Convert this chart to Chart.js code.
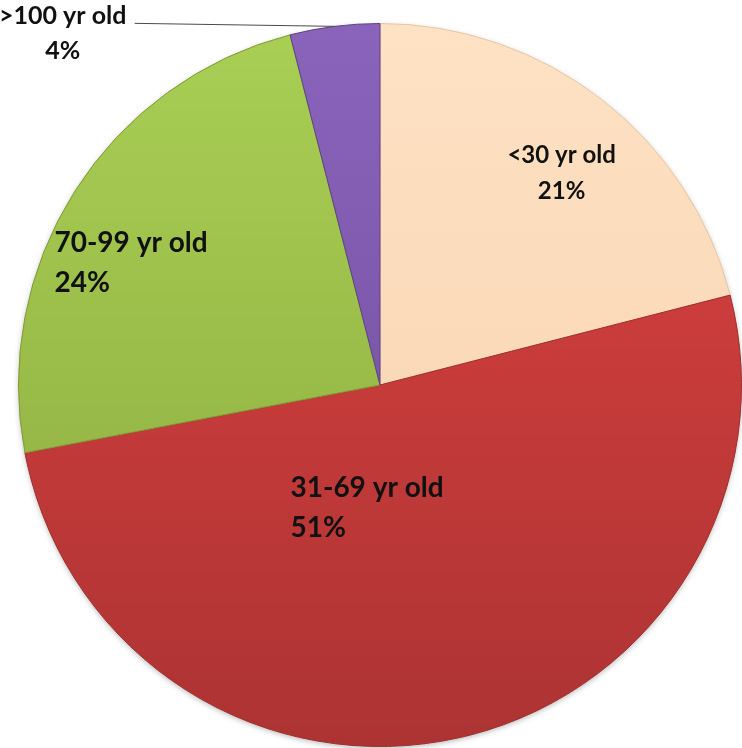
<!DOCTYPE html>
<html>
<head>
<meta charset="utf-8">
<script src="https://cdn.jsdelivr.net/npm/chart.js@4.4.1/dist/chart.umd.min.js"></script>
<style>
  html, body { margin: 0; padding: 0; background: #ffffff; }
  #wrap { width: 742px; height: 748px; position: relative; }
</style>
</head>
<body>
<div id="wrap"><canvas id="pie"></canvas></div>
<script>
// Age groups and their share of the total (percent)
const ageGroups = ['<30 yr old', '31-69 yr old', '70-99 yr old', '>100 yr old'];
const shares = [21, 51, 24, 4];

// Slice fills: lighter tone at the top of the pie, deeper tone at the bottom
const fillTop = ['#fee2c4', '#dd4341', '#a9cf55', '#8a64bb'];
const fillBottom = ['#f5d0ab', '#ad3333', '#8aa83c', '#6c4a98'];
const edgeColors = ['#e8c6a2', '#9e2f2f', '#7f9c35', '#5e4186'];

// Label styling per slice
const labelFont = [24, 28, 28, 25];
const labelGap = [36, 40, 40, 35];
const labelAlign = ['center', 'left', 'left', 'center'];
const labelRadius = [0.772, 0.343, 0.767, 0];
const labelTurn = [2.8, 18.6, -6.3, 0];   // degrees
const labelOutside = [false, false, false, true];

function sliceFill(ctx) {
  const i = ctx.dataIndex;
  const area = ctx.chart.chartArea;
  if (!area) return fillTop[i];
  const g = ctx.chart.ctx.createLinearGradient(0, area.top, 0, area.bottom);
  g.addColorStop(0, fillTop[i]);
  g.addColorStop(1, fillBottom[i]);
  return g;
}

// Soft shadow behind the whole pie
const pieShadow = {
  id: 'pieShadow',
  beforeDatasetsDraw(chart) {
    const arc = chart.getDatasetMeta(0).data[0];
    if (!arc) return;
    const { x, y, outerRadius } = arc.getProps(['x', 'y', 'outerRadius'], true);
    const c = chart.ctx;
    c.save();
    c.shadowColor = 'rgba(0,0,0,0.35)';
    c.shadowBlur = 6;
    c.shadowOffsetY = 2;
    c.fillStyle = '#ffffff';
    c.beginPath();
    c.arc(x, y, outerRadius - 1, 0, Math.PI * 2);
    c.fill();
    c.restore();
  }
};

// Category name and percentage for each slice
const sliceLabels = {
  id: 'sliceLabels',
  afterDatasetsDraw(chart) {
    const c = chart.ctx;
    const meta = chart.getDatasetMeta(0);
    const total = shares.reduce((a, b) => a + b, 0);
    meta.data.forEach((arc, i) => {
      const { x, y, startAngle, endAngle, outerRadius } =
        arc.getProps(['x', 'y', 'startAngle', 'endAngle', 'outerRadius'], true);
      const mid = (startAngle + endAngle) / 2;
      const lines = [ageGroups[i], Math.round(shares[i] / total * 100) + '%'];
      c.save();
      c.font = 'bold ' + labelFont[i] + 'px Lato, "Open Sans", sans-serif';
      c.fillStyle = '#111111';
      c.textBaseline = 'middle';
      let cx, cy;
      if (labelOutside[i]) {
        const ex = x + Math.cos(mid) * outerRadius;
        const ey = y + Math.sin(mid) * outerRadius;
        const lx = ex - 200;
        const ly = ey - 3;
        c.strokeStyle = '#4a4a4a';
        c.lineWidth = 1;
        c.beginPath();
        c.moveTo(lx, ly);
        c.lineTo(ex, ey);
        c.stroke();
        cx = lx - 72;
        cy = ly + 10;
      } else {
        const a = mid + labelTurn[i] * Math.PI / 180;
        cx = x + Math.cos(a) * outerRadius * labelRadius[i];
        cy = y + Math.sin(a) * outerRadius * labelRadius[i];
      }
      const widest = Math.max(...lines.map(t => c.measureText(t).width));
      lines.forEach((t, k) => {
        const ty = cy + (k - (lines.length - 1) / 2) * labelGap[i];
        if (labelAlign[i] === 'left') {
          c.textAlign = 'left';
          c.fillText(t, cx - widest / 2, ty);
        } else {
          c.textAlign = 'center';
          c.fillText(t, cx, ty);
        }
      });
      c.restore();
    });
  }
};

new Chart(document.getElementById('pie'), {
  type: 'pie',
  data: {
    labels: ageGroups,
    datasets: [{
      data: shares,
      backgroundColor: sliceFill,
      borderColor: edgeColors,
      borderWidth: 1
    }]
  },
  options: {
    responsive: true,
    maintainAspectRatio: false,
    animation: false,
    layout: { padding: { left: 18, right: 0, top: 23, bottom: 1 } },
    plugins: {
      legend: { display: false },
      tooltip: { enabled: false }
    }
  },
  plugins: [pieShadow, sliceLabels]
});
</script>
</body>
</html>
